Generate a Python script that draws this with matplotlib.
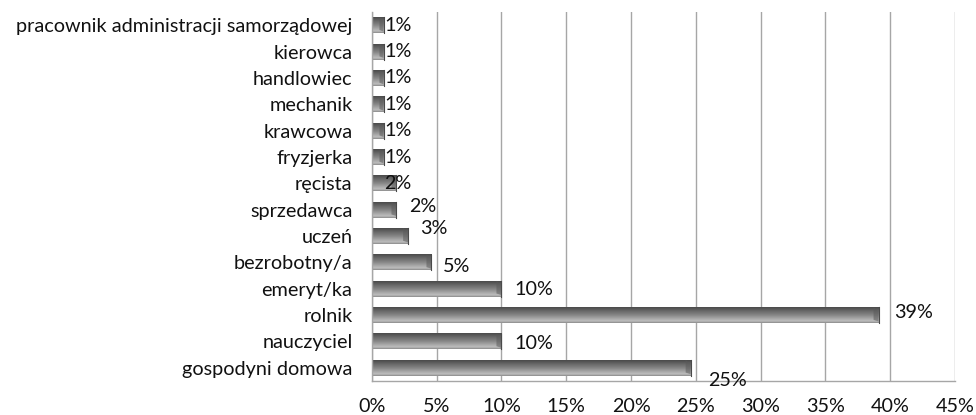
import numpy as np
import matplotlib
matplotlib.use("Agg")
import matplotlib.pyplot as plt
from matplotlib.colors import LinearSegmentedColormap
from matplotlib.patches import Polygon

# ---- data (bottom to top) ----
categories = ["gospodyni domowa", "nauczyciel", "rolnik", "emeryt/ka",
              "bezrobotny/a", "uczeń", "sprzedawca", "ręcista", "fryzjerka",
              "krawcowa", "mechanik", "handlowiec", "kierowca",
              "pracownik administracji samorządowej"]
values = [24.6, 10.0, 39.1, 10.0, 4.6, 2.8, 1.9, 1.9, 0.9, 0.9, 0.9, 0.9, 0.9, 0.9]
value_labels = ["25%", "10%", "39%", "10%", "5%", "3%", "2%", "2%",
                "1%", "1%", "1%", "1%", "1%", "1%"]
x_ticks = [0, 5, 10, 15, 20, 25, 30, 35, 40, 45]
x_tick_labels = [f"{t}%" for t in x_ticks]

# label offsets in pixels from bar end (dx right, dy up)  -- styling only
label_offsets = [(17, -13), (13, -2), (16, 3), (13, -1), (11, -4), (12, 8),
                 (13, 3), (-12, 0), (1, 0), (1, 0), (1, 0), (1, 0), (1, 0), (1, 0)]

plt.rcParams['font.family'] = ['Lato', 'DejaVu Sans']

fig = plt.figure(figsize=(9.76, 4.15), dpi=100)
ax = fig.add_axes([0.381, 0.0819, 0.5975, 0.889])

n = len(categories)
ypos = np.arange(n)
bar_h = 0.6

cmap = LinearSegmentedColormap.from_list("cyl", [
    (0.0, "#8a8a8a"), (0.12, "#bebebe"), (0.3, "#a4a4a4"),
    (0.5, "#868686"), (0.78, "#666666"), (1.0, "#4a4a4a")])
grad = np.linspace(0, 1, 64).reshape(-1, 1)

bars = ax.barh(ypos, values, height=bar_h, color="none", edgecolor="none", zorder=2)
px_per_unit = (0.5975 * 976) / 45.0
for b, v in zip(bars, values):
    x0, y0 = b.get_x(), b.get_y()
    w, h = b.get_width(), b.get_height()
    ax.imshow(grad, cmap=cmap, aspect="auto", extent=[x0, x0 + w, y0 + h, y0],
              zorder=2, interpolation="bilinear")
    bev = min(5.0 / px_per_unit, w * 0.35)
    ax.add_patch(Polygon([(x0 + w - bev, y0 + h), (x0 + w, y0 + h - h * 0.25),
                          (x0 + w, y0 + h * 0.1), (x0 + w - bev, y0 + h * 0.2)],
                         closed=True, facecolor="#5a5a5a", edgecolor="none",
                         alpha=0.55, zorder=3))
    ax.plot([x0 + w, x0 + w], [y0, y0 + h], color="#4a4a4a", lw=0.8, zorder=3)

for v, y, lab, (dx, dy) in zip(values, ypos, value_labels, label_offsets):
    ax.annotate(lab, xy=(v, y), xytext=(dx, dy), textcoords="offset pixels",
                ha="left", va="center", fontsize=14.2, color="#111111", zorder=4)

ax.set_xlim(0, 45)
ax.set_ylim(-0.5, n - 0.5)
ax.set_xticks(x_ticks)
ax.set_xticklabels(x_tick_labels, fontsize=14.2, color="#111111")
ax.set_yticks(ypos)
ax.set_yticklabels(categories, fontsize=14.3, color="#111111")
ax.tick_params(axis="both", length=0)
ax.tick_params(axis="x", pad=12)
ax.tick_params(axis="y", pad=14)
ax.xaxis.grid(True, color="#a6a6a6", lw=1.0, zorder=0)
ax.set_axisbelow(True)
for s in ["top", "right"]:
    ax.spines[s].set_visible(False)
for s in ["left", "bottom"]:
    ax.spines[s].set_color("#a6a6a6")
    ax.spines[s].set_linewidth(1.0)

fig.savefig("out.png", dpi=100, facecolor="white")
